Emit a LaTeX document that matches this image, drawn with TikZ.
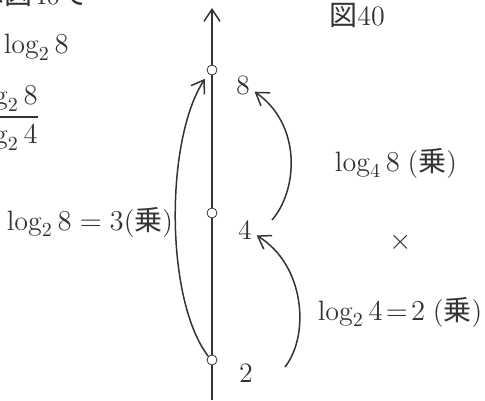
\documentclass[tikz,border=0pt]{standalone}
\usepackage{amsmath}
\usepackage{fontspec}
\newfontfamily\jp{Noto Sans CJK JP}
\usepackage{tikz}
\usetikzlibrary{calc}
\usetikzlibrary{arrows.meta}
\definecolor{ink}{gray}{0.2}

\begin{document}
\begin{tikzpicture}[x=0.5pt, y=-0.5pt, line width=0.75pt, color=ink,
  font=\fontsize{14}{17}\selectfont,
  >={Straight Barb[length=6pt,width=8pt]},
  ptdot/.style={circle, draw=ink, fill=white, line width=0.4pt, inner sep=0pt, minimum size=5pt},
  num/.style={inner sep=2pt},
  txt/.style={inner sep=0pt}]
\useasboundingbox (0,0) rectangle (485,400);
\clip (0,0) rectangle (485,400);

% axis
\coordinate (ybot) at (212,400);
\coordinate (ytop) at (212,8);
\draw[->] (ybot)--(ytop);
\node[ptdot] (p8) at (212,70) {};
\node[ptdot] (p4) at (212,213) {};
\node[ptdot] (p2) at (212,360) {};
\node[num] (l8) at (243,85) {8};
\node[num] (l4) at (245,230) {4};
\node[num] (l2) at (246,373) {2};

% arrows
\draw[->, shorten >=3pt] (p2.north west) .. controls (165,300) and (165,140) .. (p8.south west);
\coordinate (a4) at (272,220);
\coordinate (a2) at (285,367);
\draw[->] (a4) .. controls (298,190) and (302,125) .. (l8.-30);
\draw[->] (a2) .. controls (310,335) and (305,265) .. (l4.-25);

% labels
\node[txt] (fig) at (357,15) {{\jp 図}40};
\node[txt] (k1) at (90,222) {$\log_2 8=3$({\jp 乗})};
\node[txt] (k2) at (396,163) {$\log_4 8$\;({\jp 乗})};
\node[txt] (times) at (401,242) {$\times$};
\node[txt] (k3) at (400,312) {$\log_2 4\!=\!2$\;({\jp 乗})};

% cut text, top left
\node[txt, anchor=base west] (q0) at (-24,5) {{\jp は図}40{\jp で}};
\node[txt, anchor=west] (q1) at (3,47) {$\log_2 8$};
\node[txt, anchor=east] (q2) at (41,118) {$\dfrac{\log_2 8}{\log_2 4}$};
\end{tikzpicture}
\end{document}
